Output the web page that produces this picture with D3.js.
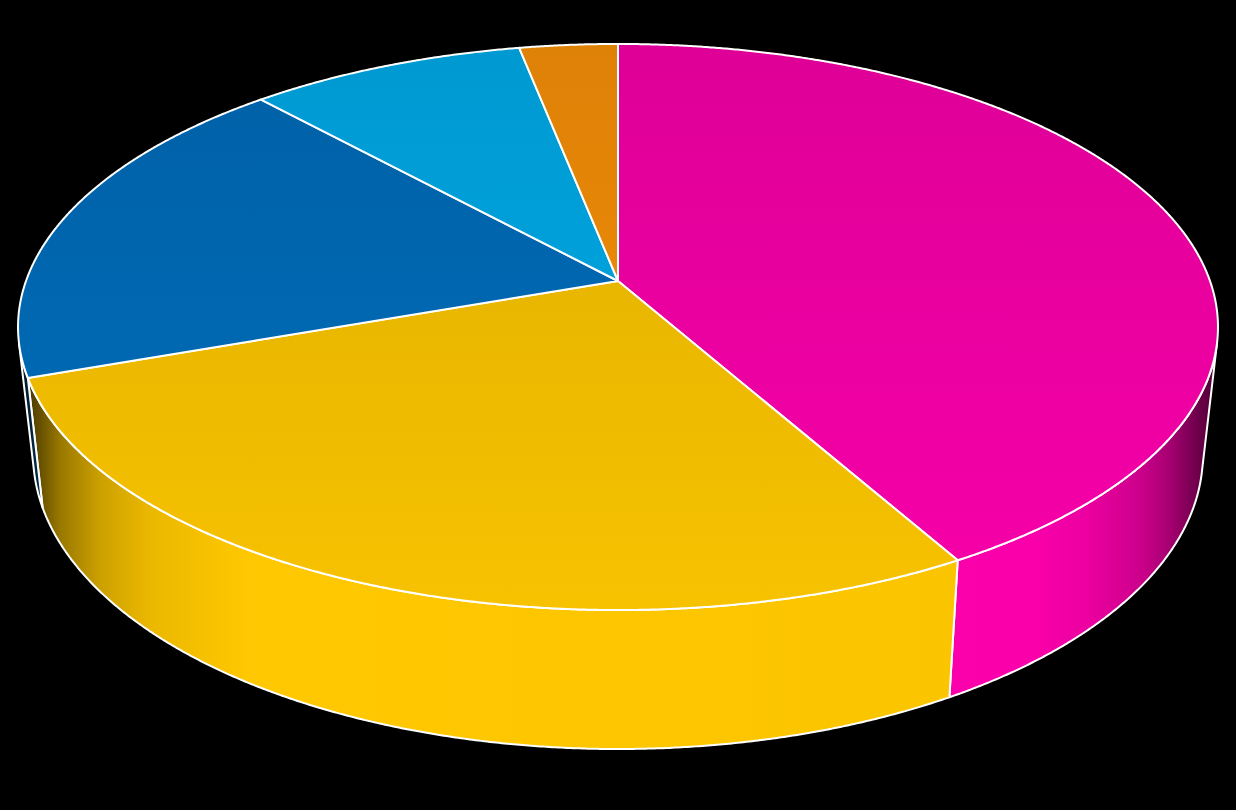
<!DOCTYPE html>
<html><head><meta charset="utf-8">
<script src="https://cdn.jsdelivr.net/npm/d3@7"></script>
<style>html,body{margin:0;padding:0;background:#000;overflow:hidden}svg{display:block}</style>
</head><body><svg id="c" width="1236" height="810"></svg>
<script>
const categories = ["A","B","C","D","E"];
const values = [41.8, 27.8, 18.6, 8.7, 3.1];
const colors = ["#FF00AE","#FFC800","#0070C0","#00B0F0","#FF9408"];

const width = 1236, height = 810, cx = 618;
// perspective ring: top rim and bottom rim of the disc
const rimTop = {d:592, a:229.9, b:281, c:-0.1625};
const rimBot = {d:577, a:219.7, b:407, c:-0.1633};
const project = (r, t) => {
  const u = Math.sin(t), v = -Math.cos(t), w = 1 + r.c * v;
  return [cx + r.d * u / w, (r.a * v + r.b) / w];
};

const svg = d3.select("#c");
svg.append("rect").attr("width",width).attr("height",height).attr("fill","#000");
const defs = svg.append("defs");
const arcs = d3.pie().sort(null).startAngle(0).endAngle(2*Math.PI)(values);

// silhouette angles: generator tangent to the rim
const visible = t => {
  const e = 1e-3, p = project(rimTop,t), p2 = project(rimTop,t+e), q = project(rimBot,t);
  return ((p2[0]-p[0])*(q[1]-p[1]) - (p2[1]-p[1])*(q[0]-p[0])) < 0;
};
const N = 1440, step = 2*Math.PI/N;
const isFront = t => Math.cos(t) < 0.5 && visible(t);

const shade = d3.scaleLinear()
  .domain([20,38,60,100,150,250,1030,1090,1140,1170,1195,1216])
  .range([.2,.38,.6,.8,.92,1,.98,.92,.8,.65,.45,.3]).clamp(true);
const shadeStops = shade.domain();
const topShade = d3.scaleLinear().domain([44,610]).range([.87,.97]);
const mul = (col,k) => { const c = d3.rgb(col); return d3.rgb(c.r*k,c.g*k,c.b*k).formatHex(); };

arcs.forEach((d,i) => {
  const col = colors[i];
  const g = defs.append("linearGradient").attr("id","wall"+i).attr("gradientUnits","userSpaceOnUse")
    .attr("x1",20).attr("x2",1216).attr("y1",0).attr("y2",0);
  shadeStops.forEach(x => g.append("stop").attr("offset",(x-20)/1196).attr("stop-color",mul(col,shade(x))));
  const h = defs.append("linearGradient").attr("id","face"+i).attr("gradientUnits","userSpaceOnUse")
    .attr("x1",0).attr("x2",0).attr("y1",44).attr("y2",610);
  topShade.domain().forEach((y,j) => h.append("stop").attr("offset",j).attr("stop-color",mul(col,topShade(y))));
});

const line = d3.line().curve(d3.curveLinear);
const stroke = {stroke:"#fff", w:2};

// walls
const walls = svg.append("g");
arcs.forEach((d,i) => {
  const ts = [];
  for (let t = d.startAngle; t < d.endAngle; t += step) if (isFront(t)) ts.push(t);
  if (isFront(d.endAngle)) ts.push(d.endAngle);
  if (ts.length < 2) return;
  const pts = ts.map(t => project(rimTop,t)).concat(ts.slice().reverse().map(t => project(rimBot,t)));
  walls.append("path").attr("d",line(pts)+"Z").attr("fill",`url(#wall${i})`)
    .attr("stroke",stroke.stroke).attr("stroke-width",stroke.w).attr("stroke-linejoin","round");
});

// top faces
const apex = [cx, rimTop.b];
const faces = svg.append("g");
arcs.forEach((d,i) => {
  const pts = [apex];
  for (let t = d.startAngle; t < d.endAngle; t += step) pts.push(project(rimTop,t));
  pts.push(project(rimTop,d.endAngle));
  faces.append("path").attr("d",line(pts)+"Z").attr("fill",`url(#face${i})`)
    .attr("stroke",stroke.stroke).attr("stroke-width",stroke.w).attr("stroke-linejoin","round")
    .append("title").text(categories[i]);
});
</script></body></html>
